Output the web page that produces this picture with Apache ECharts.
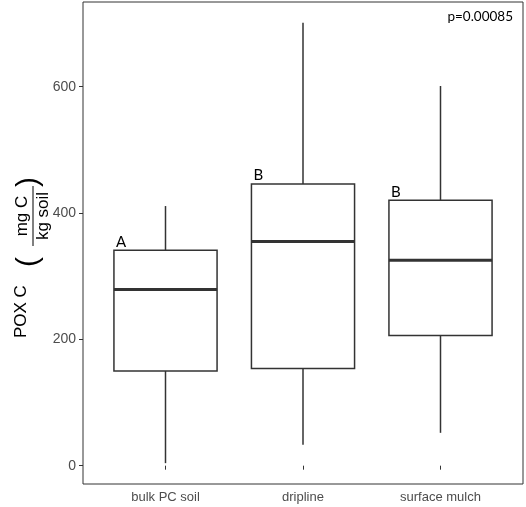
<!DOCTYPE html>
<html>
<head>
<meta charset="utf-8">
<script src="https://cdn.jsdelivr.net/npm/echarts@6/dist/echarts.min.js"></script>
<style>
  html, body { margin: 0; padding: 0; background: #fff; }
  #chart { width: 526px; height: 507px; }
</style>
</head>
<body>
<div id="chart"></div>
<script>
// groups on the x axis (positions 1,2,3)
var groups = ['bulk PC soil', 'dripline', 'surface mulch'];
// five-number summaries
var whiskerLow  = [4, 33, 52];
var lowerQ      = [150, 154, 206];
var medians     = [279, 355, 325];
var upperQ      = [341, 446, 420];
var whiskerHigh = [411, 701, 601];
// significance letters
var letters = ['A', 'B', 'B'];
var yTicks = [0, 200, 400, 600];
var pText = 'p=0.00085';

var rows = groups.map(function (g, i) {
    return [i + 1, whiskerLow[i], lowerQ[i], medians[i], upperQ[i], whiskerHigh[i]];
});

function renderBox(params, api) {
    var x = api.value(0);
    var half = api.size([0.75, 0])[0] / 2;
    var pMin = api.coord([x, api.value(1)]);
    var pQ1 = api.coord([x, api.value(2)]);
    var pMed = api.coord([x, api.value(3)]);
    var pQ3 = api.coord([x, api.value(4)]);
    var pMax = api.coord([x, api.value(5)]);
    var line = { stroke: '#333', lineWidth: 1.5 };
    return {
        type: 'group',
        children: [
            { type: 'line', shape: { x1: pMin[0], y1: pMin[1], x2: pQ1[0], y2: pQ1[1] }, style: line },
            { type: 'line', shape: { x1: pQ3[0], y1: pQ3[1], x2: pMax[0], y2: pMax[1] }, style: line },
            { type: 'rect', shape: { x: pQ3[0] - half, y: pQ3[1], width: half * 2, height: pQ1[1] - pQ3[1] },
              style: { fill: '#fff', stroke: '#333', lineWidth: 1.5 } },
            { type: 'line', shape: { x1: pMed[0] - half, y1: pMed[1], x2: pMed[0] + half, y2: pMed[1] },
              style: { stroke: '#333', lineWidth: 3 } },
            { type: 'text', x: pQ3[0] - half + 2, y: pQ3[1] - 1,
              style: { text: letters[params.dataIndex], font: '15px Lato', fill: '#000', textVerticalAlign: 'bottom' } }
        ]
    };
}

var chart = echarts.init(document.getElementById('chart'));
chart.setOption({
    animation: false,
    backgroundColor: '#fff',
    grid: {
        left: 83, top: 2, right: 3, bottom: 23,
        show: true, borderColor: '#333', borderWidth: 1, backgroundColor: 'transparent'
    },
    xAxis: {
        type: 'value', min: 0.4, max: 3.6,
        axisLine: { show: false },
        splitLine: { show: false },
        axisTick: { show: true, customValues: [1, 2, 3], length: 4, lineStyle: { color: '#333' } },
        axisLabel: {
            customValues: [1, 2, 3], margin: 7,
            color: '#4d4d4d', fontSize: 13, fontFamily: 'Liberation Sans',
            formatter: function (v) { return groups[Math.round(v) - 1] || ''; }
        }
    },
    yAxis: {
        type: 'value', min: -29, max: 734,
        axisLine: { show: false },
        splitLine: { show: false },
        axisTick: { show: true, customValues: yTicks, length: 4, lineStyle: { color: '#333' } },
        axisLabel: {
            customValues: yTicks, margin: 7,
            color: '#4d4d4d', fontSize: 14, fontFamily: 'Liberation Sans'
        }
    },
    graphic: [
        { type: 'text', right: 13, top: 10,
          style: { text: pText, font: '13.5px Lato', fill: '#000' } },
        {
            type: 'group', x: 30, y: 338, rotation: Math.PI / 2,
            children: [
                { type: 'text', x: 0, y: 0, style: { text: 'POX C', font: '17px Liberation Sans', fill: '#000', textVerticalAlign: 'bottom' } },
                { type: 'text', x: 71, y: 14, style: { text: '(', font: '30px Liberation Sans', fill: '#000', textVerticalAlign: 'bottom' } },
                { type: 'text', x: 122, y: 1, style: { text: 'mg C', font: '17px Liberation Sans', fill: '#000', textAlign: 'center', textVerticalAlign: 'bottom' } },
                { type: 'line', shape: { x1: 92, y1: 3, x2: 152, y2: 3 }, style: { stroke: '#000', lineWidth: 1 } },
                { type: 'text', x: 122, y: 5, style: { text: 'kg soil', font: '17px Liberation Sans', fill: '#000', textAlign: 'center', textVerticalAlign: 'top' } },
                { type: 'text', x: 151, y: 14, style: { text: ')', font: '30px Liberation Sans', fill: '#000', textVerticalAlign: 'bottom' } }
            ]
        }
    ],
    series: [{
        type: 'custom',
        renderItem: renderBox,
        encode: { x: 0, y: [1, 2, 3, 4, 5] },
        data: rows
    }]
});
</script>
</body>
</html>
